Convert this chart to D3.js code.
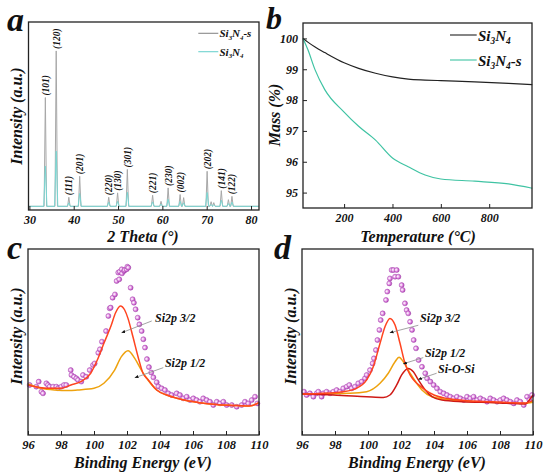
<!DOCTYPE html>
<html>
<head>
<meta charset="utf-8">
<script src="https://cdn.jsdelivr.net/npm/d3@7"></script>
<style>
body { margin: 0; background: #fff; }
svg text { font-family: "Liberation Serif", "Times New Roman", "DejaVu Serif", serif; font-weight: bold; font-style: italic; fill: #111; }
</style>
</head>
<body>
<div id="chart"></div>
<script>
// ---------- data ----------
// (a) XRD peaks: 2theta, intensity (a.u.)
const xrdTheta  = [33.6, 36.05, 38.9, 41.35, 47.9, 49.9, 52.1, 57.8, 59.7, 61.3, 64.0, 64.8, 70.1, 71.0, 71.6, 73.3, 74.9, 75.7];
const xrdSample = [59.0, 84.3, 4.9, 16.3, 4.9, 7.3, 20.0, 6.0, 2.7, 10.0, 6.4, 4.7, 19.0, 2.5, 2.0, 8.5, 3.6, 5.4]; // Si3N4-s
const xrdPure   = [21.8, 29.9, 1.9, 7.0, 2.2, 2.7, 7.6, 2.4, 1.2, 3.8, 2.7, 1.9, 7.5, 1.0, 0.8, 3.3, 1.5, 2.2];   // Si3N4
const xrdHkl    = ["(101)", "(120)", "(111)", "(201)", "(220)", "(130)", "(301)", "(221)", "", "(230)", "(002)", "", "(202)", "", "", "(141)", "", "(122)"];

// (b) TGA
const tgaTemp   = [30, 50, 80, 120, 200, 260, 330, 400, 465, 535, 600, 740, 880, 978];
const tgaPure   = [100.0, 99.88, 99.72, 99.54, 99.21, 99.03, 98.87, 98.75, 98.68, 98.65, 98.63, 98.59, 98.54, 98.50];
const tgaSample = [100.0, 99.64, 98.98, 98.34, 97.61, 97.15, 96.70, 96.12, 95.84, 95.57, 95.44, 95.37, 95.28, 95.14];

// (c) XPS Si2p, Si3N4
const cPtsE = [96.10, 96.50, 96.65, 96.81, 96.91, 97.11, 97.21, 97.31, 97.52, 97.72, 97.82, 98.02, 98.18, 98.32, 98.59, 98.63, 98.79, 98.93, 99.03, 99.23, 99.33, 99.53, 99.74, 99.94, 100.04,
  100.26, 100.36, 100.48, 100.73, 100.87, 100.95, 101.01, 101.13, 101.27, 101.37, 101.47, 101.53, 101.56, 101.68, 101.70, 101.82, 101.86, 101.98, 102.02, 102.08,
  102.22, 102.34, 102.42, 102.52, 102.65, 102.75, 102.89, 102.99, 103.09, 103.21, 103.33, 103.47, 103.60, 103.80, 103.90,
  104.10, 104.30, 104.50, 104.71, 105.01, 105.21, 105.41, 105.62, 105.82, 106.02, 106.22, 106.42, 106.62, 106.83, 107.03, 107.23, 107.44, 107.64, 107.84, 108.04, 108.35, 108.65, 108.95, 109.15, 109.35, 109.56, 109.76, 109.90];
const cPtsI = [26.9, 26.0, 28.7, 23.3, 22.4, 27.8, 26.9, 26.0, 26.0, 26.0, 25.1, 26.0, 26.9, 26.9, 34.9, 32.3, 31.3, 30.5, 29.6, 28.7, 32.3, 31.3, 34.9, 37.6, 38.5,
  44.2, 46.1, 50.2, 55.9, 64.0, 68.1, 68.5, 73.8, 75.6, 82.8, 87.3, 83.7, 87.8, 89.1, 86.9, 88.2, 88.7, 89.1, 90.5, 90.0,
  79.2, 73.0, 71.1, 67.6, 63.1, 59.5, 55.9, 51.5, 47.0, 40.8, 36.5, 33.6, 31.0, 28.4, 26.1,
  25.1, 24.2, 22.4, 21.5, 22.4, 21.5, 19.7, 20.6, 18.8, 19.7, 18.8, 17.9, 19.7, 18.8, 17.9, 16.1, 17.9, 17.0, 17.9, 16.1, 16.1, 15.2, 16.1, 17.9, 17.0, 18.8, 20.6, 17.0];
const c32E = [96, 97.2, 98, 98.6, 99.2, 99.8, 100.2, 100.6, 101.05, 101.3, 101.6, 101.86, 102.06, 102.36, 102.67, 102.97, 103.27, 103.8, 104.4, 105.2, 106.4, 107.4, 108.4, 109.2, 109.6, 110];
const c32I = [26.9, 25.1, 25.1, 26.9, 28.7, 33.2, 40.3, 49.3, 59.1, 65.6, 69.4, 67.2, 62.7, 52.8, 42.1, 33.2, 29.8, 24.2, 21.5, 19.4, 17.4, 16.4, 15.9, 15.6, 15.9, 17.4];
const c12E = [96, 96.8, 97.6, 98.5, 99.0, 100.0, 100.6, 101.25, 101.66, 102.06, 102.47, 102.87, 103.27, 103.8, 104.4, 105.2, 106.4, 107.4, 108.4, 109.2, 109.6, 110];
const c12I = [27.4, 25.1, 24.2, 23.9, 24.2, 25.1, 27.8, 34.9, 42.1, 45.3, 41.2, 34.9, 29.6, 24.2, 21.5, 19.4, 17.4, 16.4, 15.9, 15.6, 15.9, 17.4];

// (d) XPS Si2p, Si3N4-s
const dPtsE = [96.12, 96.28, 96.48, 96.69, 96.89, 96.99, 97.19, 97.29, 97.49, 97.70, 97.90, 98.10, 98.30, 98.50, 98.71, 98.87, 99.01, 99.21, 99.41, 99.62, 99.82, 99.92,
  100.12, 100.28, 100.36, 100.48, 100.57, 100.69, 100.77, 100.89, 101.09, 101.17, 101.29, 101.33, 101.43, 101.54, 101.64, 101.74, 101.84, 102.04, 102.10, 102.24, 102.34, 102.44, 102.55,
  102.67, 102.77, 102.91, 103.07, 103.27, 103.47, 103.58, 103.78, 103.98, 104.18, 104.38, 104.59, 104.79, 104.99, 105.19, 105.39, 105.60, 105.80, 106.00, 106.20, 106.40, 106.61, 106.81,
  107.01, 107.21, 107.41, 107.62, 107.82, 108.02, 108.22, 108.42, 108.63, 108.83, 109.03, 109.23, 109.44, 109.64, 109.78, 109.94];
const dPtsI = [23.3, 21.5, 22.4, 20.6, 22.4, 23.3, 20.6, 22.4, 23.3, 22.4, 23.3, 24.2, 23.3, 25.1, 26.0, 26.9, 25.1, 26.0, 27.8, 28.7, 30.5, 32.3,
  34.9, 38.5, 41.2, 45.7, 51.1, 56.5, 61.8, 65.4, 72.6, 77.1, 81.5, 84.2, 88.7, 88.7, 85.1, 88.7, 85.1, 80.6, 78.0, 70.8, 67.2, 65.4, 60.9,
  56.5, 51.1, 46.6, 40.3, 36.7, 33.2, 30.5, 28.7, 26.9, 25.1, 23.3, 22.4, 21.5, 20.6, 19.7, 20.6, 19.7, 18.8, 20.6, 19.7, 20.6, 18.8, 19.7,
  18.8, 17.9, 19.7, 18.8, 17.9, 18.8, 19.7, 18.8, 17.9, 17.0, 18.8, 17.9, 16.1, 20.6, 18.8, 21.5];
const d32E = [96, 97, 98.5, 99.3, 99.92, 100.32, 100.73, 101.03, 101.33, 101.64, 101.94, 102.24, 102.55, 102.85, 103.15, 103.5, 104, 104.8, 106, 107.5, 109.5, 110];
const d32I = [22.0, 22.3, 23.3, 25.1, 29.6, 36.7, 49.3, 58.2, 62.7, 59.1, 49.3, 38.5, 32.3, 28.7, 26.4, 24.0, 21.5, 19.6, 18.4, 17.9, 17.2, 18.5];
const d12E = [96, 98.9, 99.92, 100.73, 101.23, 101.64, 101.88, 102.14, 102.55, 102.95, 103.27, 103.88, 105.09, 106.7, 109.53, 110];
const d12I = [22.0, 22.4, 23.3, 27.8, 33.2, 39.4, 41.8, 39.4, 33.2, 27.8, 24.2, 20.6, 18.8, 17.9, 17.0, 17.6];
const dSoE = [96, 97.9, 99.92, 100.93, 101.33, 101.74, 102.04, 102.44, 102.75, 103.05, 103.47, 103.88, 104.48, 105.7, 107.7, 109.53, 109.85, 110];
const dSoI = [22.0, 21.5, 20.6, 20.2, 21.5, 26.9, 32.3, 35.8, 34.0, 29.6, 24.2, 20.6, 18.8, 17.9, 17.4, 16.7, 19.7, 21.5];

const xpsTicks = [96, 98, 100, 102, 104, 106, 108, 110];

// ---------- drawing ----------
const svg = d3.select("#chart").append("svg").attr("width", 550).attr("height", 476);

const defs = svg.append("defs");
const grad = defs.append("radialGradient").attr("id", "ball").attr("cx", "38%").attr("cy", "45%").attr("r", "62%");
grad.append("stop").attr("offset", "0%").attr("stop-color", "#ffffff");
grad.append("stop").attr("offset", "30%").attr("stop-color", "#f2c6f2");
grad.append("stop").attr("offset", "70%").attr("stop-color", "#d06ad2");
grad.append("stop").attr("offset", "100%").attr("stop-color", "#a13ea8");
defs.append("marker").attr("id", "arr").attr("viewBox", "0 0 10 10").attr("refX", 9).attr("refY", 5)
  .attr("markerWidth", 5).attr("markerHeight", 5).attr("orient", "auto")
  .append("path").attr("d", "M0,1 L10,5 L0,9 Z").attr("fill", "#111");

function frame(x0, y0, x1, y1) {
  svg.append("rect").attr("x", x0).attr("y", y0).attr("width", x1 - x0).attr("height", y1 - y0)
    .attr("fill", "none").attr("stroke", "#222").attr("stroke-width", 1.3);
}

function bottomAxis(x, yPos, ticks, fmt, pad, fs) {
  const g = svg.append("g").attr("transform", `translate(0,${yPos})`)
    .call(d3.axisBottom(x).tickValues(ticks).tickFormat(fmt).tickSize(-4).tickPadding(pad));
  g.select(".domain").remove();
  g.selectAll("line").attr("stroke", "#222");
  g.selectAll("text").style("font-size", fs + "px").attr("fill", "#111");
}

function label(txt, x, y, fs, rot) {
  svg.append("text").attr("transform", `translate(${x},${y})` + (rot ? " rotate(-90)" : ""))
    .attr("text-anchor", "middle").attr("dominant-baseline", "central")
    .style("font-size", fs + "px").text(txt);
}

function letter(txt, x, y, fs) {
  svg.append("text").attr("x", x).attr("y", y).style("font-size", (fs || 34) + "px").text(txt);
}

// formula with subscripts: Si3N4 / Si3N4-s
function formula(x, y, fs, suffix) {
  const t = svg.append("text").attr("x", x).attr("y", y).style("font-size", fs + "px");
  const sub = fs * 0.62, d = fs * 0.22;
  t.append("tspan").text("Si");
  t.append("tspan").style("font-size", sub + "px").attr("dy", d).text("3");
  t.append("tspan").attr("dy", -d).text("N");
  t.append("tspan").style("font-size", sub + "px").attr("dy", d).text("4");
  if (suffix) t.append("tspan").attr("dy", -d).text(suffix);
}

function legendLine(x0, x1, y, color) {
  svg.append("line").attr("x1", x0).attr("x2", x1).attr("y1", y).attr("y2", y)
    .attr("stroke", color).attr("stroke-width", 1.1);
}

// ----- panel a: XRD -----
{
  const x = d3.scaleLinear().domain([29.8, 81.8]).range([28.5, 259]);
  const y = d3.scaleLinear().domain([-2, 100]).range([210, 22]);
  // each peak drawn as a narrow spike on the baseline
  function spikes(hs, w) {
    const pts = [[29.8, 0]];
    xrdTheta.forEach((t, i) => { pts.push([t - w, 0], [t, hs[i]], [t + w, 0]); });
    pts.push([81.8, 0]);
    return pts;
  }
  const line = d3.line().x(d => x(d[0])).y(d => y(d[1]));
  svg.append("path").attr("d", line(spikes(xrdSample, 0.28))).attr("fill", "none").attr("stroke", "#a8a8a8").attr("stroke-width", 1);
  svg.append("path").attr("d", line(spikes(xrdPure, 0.36))).attr("fill", "none").attr("stroke", "#7ad6d2").attr("stroke-width", 1);

  xrdTheta.forEach((t, i) => {
    if (!xrdHkl[i]) return;
    svg.append("text").attr("transform", `translate(${x(t) + 0.5},${y(xrdSample[i]) - 2}) rotate(-90)`)
      .attr("text-anchor", "start").attr("dominant-baseline", "central")
      .style("font-size", "9.5px").text(xrdHkl[i]);
  });

  frame(28.5, 22, 259, 210);
  bottomAxis(x, 210, [30, 40, 50, 60, 70, 80], d3.format("d"), 5, 12);
  label("2 Theta (°)", 143, 236, 16, false);
  label("Intensity (a.u.)", 16.5, 116, 16, true);
  letter("a", 7, 31);

  legendLine(198.3, 218.3, 33.3, "#8a8a8a");
  formula(219.5, 37.3, 11, "-s");
  legendLine(198.3, 218.3, 51.7, "#6fd3cf");
  formula(219.5, 55.6, 11, "");
}

// ----- panel b: TGA -----
{
  const x = d3.scaleLinear().domain([30, 977]).range([303, 532]);
  const y = d3.scaleLinear().domain([94.5, 100.5]).range([208, 23]);
  const line = d3.line().curve(d3.curveMonotoneX).x((d, i) => x(tgaTemp[i])).y(d => y(d));
  svg.append("path").attr("d", line(tgaPure)).attr("fill", "none").attr("stroke", "#222").attr("stroke-width", 1.2);
  svg.append("path").attr("d", line(tgaSample)).attr("fill", "none").attr("stroke", "#3fc3a3").attr("stroke-width", 1.2);

  frame(303, 23, 532, 208);
  bottomAxis(x, 208, [200, 400, 600, 800], d3.format("d"), 5, 12);
  const gy = svg.append("g").attr("transform", "translate(303,0)")
    .call(d3.axisLeft(y).tickValues([95, 96, 97, 98, 99, 100]).tickFormat(d3.format("d")).tickSize(-4).tickPadding(5));
  gy.select(".domain").remove();
  gy.selectAll("line").attr("stroke", "#222");
  gy.selectAll("text").style("font-size", "12px").attr("fill", "#111");
  label("Temperature (°C)", 418, 236, 16, false);
  label("Mass (%)", 274, 115, 16, true);
  letter("b", 266, 28.5, 32);

  legendLine(450, 476.7, 35, "#222");
  formula(478, 40.5, 15, "");
  legendLine(450, 476.7, 60, "#3fc3a3");
  formula(478, 65.5, 15, "-s");
}

// ----- panels c, d: XPS -----
function xpsPanel(x0, ptsE, ptsI, curves, notes, let, lx, ylx) {
  const x = d3.scaleLinear().domain([96, 110]).range([x0, x0 + 231]);
  const y = d3.scaleLinear().domain([0, 100]).range([435, 249]);
  const g = svg.append("g");
  g.selectAll("circle").data(ptsE).join("circle")
    .attr("cx", d => x(d)).attr("cy", (d, i) => y(ptsI[i])).attr("r", 2.5)
    .attr("fill", "url(#ball)").attr("stroke", "#a84cb0").attr("stroke-width", 0.5);
  curves.forEach(c => {
    const line = d3.line().curve(d3.curveMonotoneX).x(d => x(d)).y((d, i) => y(c.i[i]));
    svg.append("path").attr("d", line(c.e)).attr("fill", "none").attr("stroke", c.color).attr("stroke-width", 1.5);
  });
  notes.forEach(n => {
    svg.append("line").attr("x1", x(n.from[0])).attr("y1", y(n.from[1])).attr("x2", x(n.to[0])).attr("y2", y(n.to[1]))
      .attr("stroke", "#8c8c8c").attr("stroke-width", 0.8).attr("marker-end", "url(#arr)");
    svg.append("text").attr("x", x(n.at[0])).attr("y", y(n.at[1])).style("font-size", "12px").text(n.text);
  });
  frame(x0, 249, x0 + 231, 435);
  bottomAxis(x, 435, xpsTicks, d3.format("d"), 5.5, 12.5);
  label("Binding Energy (eV)", x0 + 115, 462, 16, false);
  label("Intensity (a.u.)", ylx, 336, 16, true);
  letter(let, lx, 259);
}

xpsPanel(28, cPtsE, cPtsI,
  [{ e: c12E, i: c12I, color: "#eea20e" }, { e: c32E, i: c32I, color: "#ff4420" }],
  [{ text: "Si2p 3/2", at: [103.7, 61.0], from: [103.5, 61.3], to: [101.68, 55.0] },
   { text: "Si2p 1/2", at: [104.3, 36.8], from: [104.2, 36.2], to: [102.48, 30.8] }],
  "c", 7, 16);

xpsPanel(302, dPtsE, dPtsI,
  [{ e: d12E, i: d12I, color: "#eea20e" }, { e: dSoE, i: dSoI, color: "#cf1a16" }, { e: d32E, i: d32I, color: "#ff4420" }],
  [{ text: "Si2p 3/2", at: [103.15, 61.0], from: [103.05, 59.0], to: [101.33, 55.0] },
   { text: "Si2p 1/2", at: [103.45, 41.7], from: [103.35, 41.6], to: [102.14, 38.3] },
   { text: "Si-O-Si", at: [104.24, 33.1], from: [104.16, 33.2], to: [103.05, 29.9] }],
  "d", 274, 290);
</script>
</body>
</html>
